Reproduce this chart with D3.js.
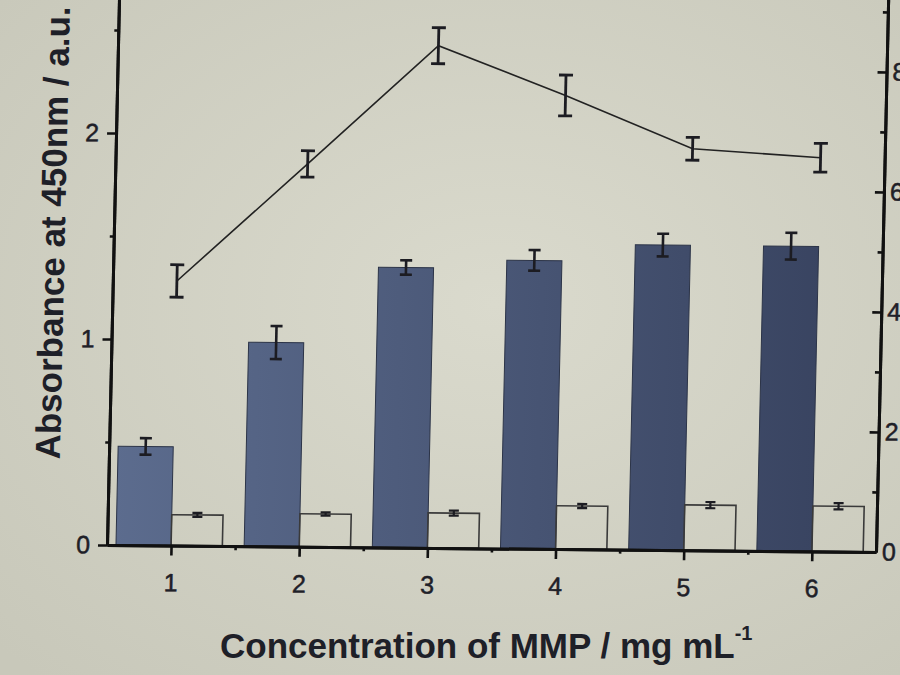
<!DOCTYPE html>
<html>
<head>
<meta charset="utf-8">
<title>Absorbance vs MMP concentration</title>
<script src="https://cdn.jsdelivr.net/npm/d3@7"></script>
<style>
  body { margin: 0; background: #d3d3c5; }
  text { font-family: "Liberation Sans", Arial, sans-serif; fill: #1e2028; }
</style>
</head>
<body>
<svg id="chart" width="900" height="675"></svg>
<script>
// data
const concentrations = [1, 2, 3, 4, 5, 6];
const absorbance    = [0.48, 0.99, 1.36, 1.40, 1.48, 1.48];
const absorbanceErr = [0.04, 0.08, 0.035, 0.05, 0.055, 0.065];
const controlAbs    = [0.15, 0.16, 0.17, 0.21, 0.22, 0.22];
const controlErr    = [0.01, 0.008, 0.012, 0.01, 0.015, 0.015];
const lineValues    = [4.41, 6.38, 8.37, 7.56, 6.69, 6.56];   // right axis
const lineErr       = [0.27, 0.22, 0.30, 0.34, 0.19, 0.24];
const leftTicks  = [0, 1, 2];
const leftMinor  = [0.5, 1.5, 2.5];
const rightTicks = [0, 2, 4, 6, 8];
const rightMinor = [1, 3, 5, 7, 9];
const xMinor     = [1.5, 2.5, 3.5, 4.5, 5.5];

const svg = d3.select('#chart')
const W = 900, H = 675

// photo-like background
const defs = svg.append('defs')
const bg = defs.append('radialGradient').attr('id', 'bg')
  .attr('cx', '55%').attr('cy', '45%').attr('r', '75%')
bg.append('stop').attr('offset', '0%').attr('stop-color', '#dadacd')
bg.append('stop').attr('offset', '100%').attr('stop-color', '#c8c8ba')
const barGrad = defs.append('linearGradient').attr('id', 'barGrad')
  .attr('gradientUnits', 'userSpaceOnUse')
  .attr('x1', 110).attr('x2', 820).attr('y1', 0).attr('y2', 0)
barGrad.append('stop').attr('offset', '0%').attr('stop-color', '#5c6c8e')
barGrad.append('stop').attr('offset', '100%').attr('stop-color', '#394461')

svg.append('rect').attr('width', W).attr('height', H).attr('fill', 'url(#bg)')

// the photo is slightly skewed, so the plot sits in a sheared group
const pivotX = 106, pivotY = 545
const shY = 0.009, shX = -0.022
const plot = svg.append('g')
  .attr('transform', `matrix(1,${shY},${shX},1,${-shX * pivotY},${-shY * pivotX})`)

const x = d3.scaleLinear().domain([0.5, 6.5]).range([107, 876])
const yL = d3.scaleLinear().domain([0, 2.8]).range([pivotY, pivotY - 2.8 * 206])
const yR = d3.scaleLinear().domain([0, 10]).range([pivotY, pivotY - 10 * 60])

const rows = concentrations.map((c, i) => ({
  c: c, a: absorbance[i], ae: absorbanceErr[i],
  b: controlAbs[i], be: controlErr[i],
  l: lineValues[i], le: lineErr[i]
}))

// filled bars (left of each tick)
plot.selectAll('rect.filled').data(rows).enter().append('rect')
  .attr('class', 'filled')
  .attr('x', d => x(d.c - 0.43))
  .attr('width', d => x(d.c) - x(d.c - 0.43))
  .attr('y', d => yL(d.a))
  .attr('height', d => yL(0) - yL(d.a))
  .attr('fill', 'url(#barGrad)')
  .attr('stroke', '#2c3448').attr('stroke-width', 1)

// hollow bars (right of each tick)
plot.selectAll('rect.hollow').data(rows).enter().append('rect')
  .attr('class', 'hollow')
  .attr('x', d => x(d.c))
  .attr('width', d => x(d.c + 0.4) - x(d.c))
  .attr('y', d => yL(d.b))
  .attr('height', d => yL(0) - yL(d.b))
  .attr('fill', 'none')
  .attr('stroke', '#3a3a3a').attr('stroke-width', 1.6)

function errorBars(sel, cx, lo, hi, cap, w) {
  sel.append('line').attr('x1', cx).attr('x2', cx).attr('y1', lo).attr('y2', hi)
    .attr('stroke', '#1c1c22').attr('stroke-width', w)
  sel.append('line').attr('x1', d => cx(d) - cap / 2).attr('x2', d => cx(d) + cap / 2)
    .attr('y1', lo).attr('y2', lo).attr('stroke', '#1c1c22').attr('stroke-width', w)
  sel.append('line').attr('x1', d => cx(d) - cap / 2).attr('x2', d => cx(d) + cap / 2)
    .attr('y1', hi).attr('y2', hi).attr('stroke', '#1c1c22').attr('stroke-width', w)
}

const filledErr = plot.selectAll('g.ferr').data(rows).enter().append('g').attr('class', 'ferr')
errorBars(filledErr, d => (x(d.c - 0.43) + x(d.c)) / 2,
  d => yL(d.a - d.ae), d => yL(d.a + d.ae), 12, 2.6)

const hollowErr = plot.selectAll('g.herr').data(rows).enter().append('g').attr('class', 'herr')
errorBars(hollowErr, d => (x(d.c) + x(d.c + 0.4)) / 2,
  d => yL(d.b - d.be), d => yL(d.b + d.be), 10, 2.2)

// line on the right axis
const line = d3.line().x(d => x(d.c)).y(d => yR(d.l))
plot.append('path').datum(rows).attr('d', line)
  .attr('fill', 'none').attr('stroke', '#222').attr('stroke-width', 1.6)

const lineErrG = plot.selectAll('g.lerr').data(rows).enter().append('g').attr('class', 'lerr')
errorBars(lineErrG, d => x(d.c), d => yR(d.l - d.le), d => yR(d.l + d.le), 14, 2.8)

// axes
function styleAxis(g, labels) {
  g.select('.domain').attr('stroke', '#111').attr('stroke-width', 3)
  g.selectAll('.tick line').attr('stroke', '#111').attr('stroke-width', 2.6)
  g.selectAll('.tick text').attr('font-size', 25).attr('fill', '#1e2028')
    .attr('stroke', '#1e2028').attr('stroke-width', 0.5)
  if (!labels) g.selectAll('.tick text').remove()
}

plot.append('g').attr('transform', `translate(${x(0.5)},0)`)
  .call(d3.axisLeft(yL).tickValues(leftTicks).tickSize(9).tickSizeOuter(0).tickPadding(8).tickFormat(d3.format('d')))
  .call(g => styleAxis(g, true))
plot.append('g').attr('transform', `translate(${x(0.5)},0)`)
  .call(d3.axisLeft(yL).tickValues(leftMinor).tickSize(4).tickSizeOuter(0))
  .call(g => styleAxis(g, false))

plot.append('g').attr('transform', `translate(${x(6.5)},0)`)
  .call(d3.axisRight(yR).tickValues(rightTicks).tickSize(-9).tickSizeOuter(0).tickPadding(6).tickFormat(d3.format('d')))
  .call(g => styleAxis(g, true))
plot.append('g').attr('transform', `translate(${x(6.5)},0)`)
  .call(d3.axisRight(yR).tickValues(rightMinor).tickSize(-5).tickSizeOuter(0))
  .call(g => styleAxis(g, false))

plot.append('g').attr('transform', `translate(0,${yL(0)})`)
  .call(d3.axisBottom(x).tickValues(concentrations).tickSize(10).tickSizeOuter(0).tickPadding(18).tickFormat(d3.format('d')))
  .call(g => styleAxis(g, true))
plot.append('g').attr('transform', `translate(0,${yL(0)})`)
  .call(d3.axisBottom(x).tickValues(xMinor).tickSize(4).tickSizeOuter(0))
  .call(g => styleAxis(g, false))

// axis titles
plot.append('text')
  .attr('transform', 'translate(58,460) rotate(-90)')
  .attr('text-anchor', 'start')
  .attr('font-size', 35).attr('font-weight', 'bold')
  .text('Absorbance at 450nm / a.u.')

const xt = svg.append('text')
  .attr('x', 220).attr('y', 658)
  .attr('font-size', 35).attr('font-weight', 'bold')
xt.append('tspan').text('Concentration of MMP / mg mL')
xt.append('tspan').attr('font-size', 20).attr('dy', -18).text('-1')
</script>
</body>
</html>
